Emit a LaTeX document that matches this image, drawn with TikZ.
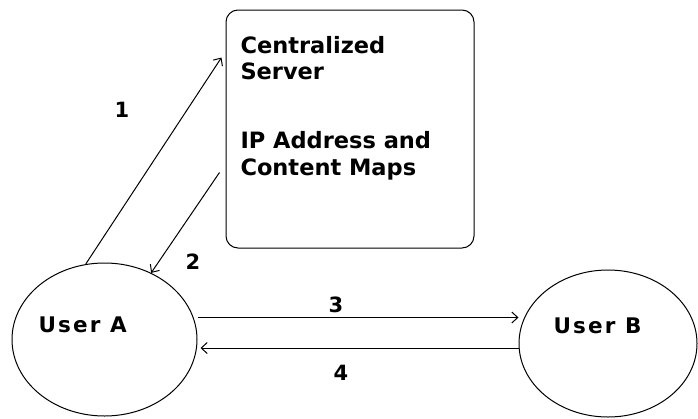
\documentclass[tikz,border=0pt]{standalone}
\usepackage{fontspec}
\setmainfont{DejaVu Sans}
\usetikzlibrary{shapes.geometric,arrows.meta,calc}
\begin{document}
\begin{tikzpicture}[x=1pt,y=-1pt, line width=1pt,
  user/.style={draw, ellipse, inner sep=0},
  servertext/.style={anchor=base west, inner sep=0, font=\bfseries\fontsize{22.5}{26}\selectfont},
  usertext/.style={anchor=base west, inner sep=0, font=\bfseries\fontsize{21.5}{26}\selectfont\addfontfeature{LetterSpace=10}},
  num/.style={inner sep=0, font=\bfseries\fontsize{21}{24}\selectfont},
  arr/.style={-{Straight Barb[length=6pt,width=11pt]}}]
\fill[white] (0,0) rectangle (698,418);
\useasboundingbox (0,0) rectangle (698,418);

\node[draw, rounded corners=12pt, minimum width=248pt, minimum height=238pt, inner sep=0] (S) at (350,129) {};
\node[user, minimum width=185pt, minimum height=153pt] (A) at (104.5,339.5) {};
\node[user, minimum width=178pt, minimum height=147pt] (B) at (608,343.5) {};

\node[servertext] (s1) at (240,53) {Centralized};
\node[servertext] (s2) at (240,79) {Server};
\node[servertext] (s3) at (240,148) {IP Address and};
\node[servertext] (s4) at (240,175) {Content Maps};

\node[usertext] (at) at (38,332) {User A};
\node[usertext] (bt) at (553,333) {User B};

\draw[arr] (A.104) -- ([xshift=-4pt,yshift=-48pt]S.north west);
\draw[arr] ([xshift=-6pt,yshift=-163pt]S.north west) -- (A.55);
\coordinate (a3s) at ([yshift=22pt]A.east);
\draw[arr] (a3s) -- (a3s -| B.west);
\coordinate (a4s) at ([yshift=-4.5pt]B.west);
\draw[arr] (a4s) -- ([xshift=3pt]a4s -| A.east);

\node[num] (n1) at (122,110) {1};
\node[num] (n2) at (193,262) {2};
\node[num] (n3) at (336,305) {3};
\node[num] (n4) at (341,373) {4};
\end{tikzpicture}
\end{document}
